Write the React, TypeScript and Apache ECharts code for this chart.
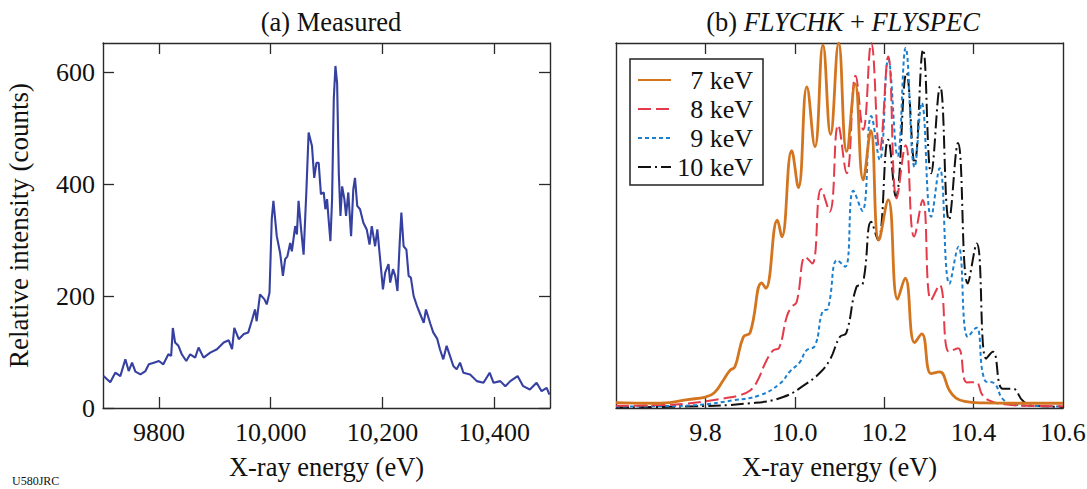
import React, { useEffect, useRef } from "react";
import * as echarts from "echarts";

// ---------- Panel (a): measured spectrum ----------
const measuredEnergy = [
  9701, 9713, 9722, 9731, 9740, 9746, 9752, 9758, 9767, 9776, 9782, 9791, 9800, 9808, 9817, 9822,
  9825, 9829, 9835, 9841, 9849, 9856, 9865, 9871, 9880, 9892, 9904, 9916, 9925, 9931, 9935, 9943,
  9952, 9960, 9967, 9972, 9975, 9981, 9989, 9993, 9998, 10002, 10005, 10011, 10017, 10022, 10026,
  10030, 10035, 10038, 10044, 10047, 10050, 10054, 10059, 10064, 10068, 10074, 10078, 10082, 10086,
  10090, 10095, 10098, 10101, 10104, 10107, 10110, 10113, 10116, 10119, 10122, 10125, 10128, 10132,
  10135, 10139, 10144, 10148, 10151, 10155, 10160, 10166, 10172, 10177, 10181, 10187, 10191, 10196,
  10201, 10205, 10211, 10214, 10219, 10223, 10227, 10231, 10234, 10238, 10243, 10247, 10251, 10256,
  10262, 10268, 10274, 10278, 10286, 10291, 10298, 10303, 10309, 10315, 10321, 10327, 10333, 10339,
  10345, 10357, 10369, 10381, 10392, 10399, 10411, 10420, 10429, 10442, 10452, 10464, 10476, 10485,
  10494, 10499,
];
const measuredCounts = [
  57, 46, 63, 57, 87, 66, 81, 65, 60, 66, 78, 81, 84, 78, 96, 93,
  143, 117, 111, 96, 84, 96, 90, 108, 90, 99, 105, 117, 121, 105, 143, 123,
  132, 135, 158, 176, 155, 203, 194, 185, 206, 337, 370, 307, 277, 236, 266,
  271, 295, 280, 325, 310, 370, 325, 274, 388, 492, 468, 411, 438, 438,
  382, 385, 355, 373, 334, 298, 373, 551, 611, 580, 420, 343, 396, 373,
  343, 385, 307, 391, 411, 361, 355, 331, 319, 292, 325, 289, 319, 266,
  212, 242, 257, 224, 248, 236, 209, 295, 349, 289, 283, 236, 233, 200,
  182, 167, 152, 176, 150, 135, 124, 105, 87, 111, 93, 75, 69, 81,
  63, 60, 48, 45, 63, 45, 48, 39, 48, 57, 39, 33, 45, 30,
  36, 24,
];
const measuredXTicks = [9800, 10000, 10200, 10400];
const measuredYTicks = [0, 200, 400, 600];

// ---------- Panel (b): FLYCHK + FLYSPEC (relative intensity) ----------
const seriesNames = ["7 keV", "8 keV", "9 keV", "10 keV"];
const sim7keV = [
  [9.6, 0.015], [9.68, 0.013], [9.72, 0.015], [9.76, 0.023], [9.8, 0.03], [9.82, 0.042],
  [9.84, 0.076], [9.855, 0.103], [9.866, 0.113], [9.885, 0.195], [9.9, 0.206], [9.926, 0.343],
  [9.935, 0.328], [9.961, 0.515], [9.971, 0.469], [9.993, 0.705], [10.008, 0.604], [10.027, 0.88],
  [10.045, 0.716], [10.063, 0.995], [10.08, 0.75], [10.098, 1.0], [10.116, 0.703], [10.135, 0.888],
  [10.153, 0.625], [10.17, 0.76], [10.188, 0.46], [10.209, 0.57], [10.23, 0.298], [10.247, 0.356],
  [10.268, 0.179], [10.284, 0.203], [10.305, 0.094], [10.324, 0.099], [10.346, 0.048], [10.36, 0.028],
  [10.38, 0.018], [10.42, 0.014], [10.5, 0.013], [10.6, 0.013],
];
const sim8keV = [
  [9.6, 0.006], [9.7, 0.008], [9.76, 0.012], [9.8, 0.018], [9.84, 0.026], [9.877, 0.035],
  [9.9, 0.048], [9.915, 0.071], [9.937, 0.131], [9.952, 0.158], [9.965, 0.165], [9.982, 0.25],
  [9.993, 0.277], [10.004, 0.29], [10.024, 0.414], [10.039, 0.396], [10.059, 0.6], [10.078, 0.538],
  [10.097, 0.775], [10.116, 0.643], [10.136, 0.91], [10.153, 0.762], [10.171, 1.0], [10.19, 0.707],
  [10.209, 0.963], [10.228, 0.575], [10.248, 0.72], [10.267, 0.47], [10.286, 0.57], [10.305, 0.296],
  [10.324, 0.337], [10.345, 0.154], [10.365, 0.164], [10.385, 0.07], [10.405, 0.071], [10.42, 0.035],
  [10.44, 0.018], [10.47, 0.01], [10.52, 0.006], [10.6, 0.005],
];
const sim9keV = [
  [9.6, 0.004], [9.7, 0.005], [9.78, 0.008], [9.862, 0.021], [9.922, 0.035], [9.967, 0.067],
  [9.989, 0.1], [10.011, 0.125], [10.026, 0.158], [10.045, 0.17], [10.062, 0.265], [10.074, 0.272],
  [10.095, 0.405], [10.113, 0.387], [10.131, 0.595], [10.151, 0.54], [10.171, 0.8], [10.19, 0.68],
  [10.209, 0.955], [10.23, 0.69], [10.248, 0.986], [10.268, 0.66], [10.284, 0.836], [10.305, 0.524],
  [10.324, 0.657], [10.346, 0.341], [10.366, 0.442], [10.387, 0.195], [10.406, 0.22], [10.425, 0.076],
  [10.447, 0.067], [10.465, 0.025], [10.49, 0.01], [10.55, 0.005], [10.6, 0.004],
];
const sim10keV = [
  [9.6, 0.002], [9.75, 0.004], [9.9, 0.013], [9.974, 0.03], [10.026, 0.067], [10.055, 0.095],
  [10.078, 0.131], [10.101, 0.195], [10.115, 0.205], [10.138, 0.332], [10.152, 0.34], [10.171, 0.51],
  [10.186, 0.46], [10.209, 0.735], [10.226, 0.579], [10.25, 0.918], [10.268, 0.671], [10.287, 0.982],
  [10.305, 0.643], [10.325, 0.881], [10.345, 0.515], [10.365, 0.726], [10.387, 0.341], [10.407, 0.451],
  [10.428, 0.135], [10.443, 0.154], [10.465, 0.053], [10.487, 0.053], [10.51, 0.02], [10.53, 0.007],
  [10.6, 0.003],
];
const simXTicks = [9.8, 10.0, 10.2, 10.4];
const simXLabels = [9.8, 10.0, 10.2, 10.4, 10.6];

const FONT = "Liberation Serif, DejaVu Serif, serif";
const INK = "#111";
const AXIS = "#2a2a2a";

export default function App() {
  const ref = useRef<HTMLDivElement>(null);

  useEffect(() => {
    document.body.style.margin = "0";
    if (!ref.current) return;
    const chart = echarts.init(ref.current, undefined, { renderer: "svg" });

    const axisLine = { show: true, onZero: false, lineStyle: { color: AXIS, width: 1.4 } };
    const tickIn = (vals: number[] | undefined, show = true) => ({
      show,
      inside: true,
      length: 11,
      lineStyle: { color: AXIS, width: 1.3 },
      ...(vals ? { customValues: vals } : {}),
    });
    const labelStyle = { fontFamily: FONT, fontSize: 26, color: INK };
    const nameStyle = { fontFamily: FONT, fontSize: 26.5, color: INK };

    const fmtEnergy = (v: number) =>
      v >= 10000 ? v.toLocaleString("en-US") : String(v);

    const option: any = {
      animation: false,
      backgroundColor: "#fff",
      textStyle: { fontFamily: FONT },
      title: [
        {
          text: "(a) Measured",
          left: 326,
          top: 3,
          textAlign: "center",
          textStyle: { fontFamily: FONT, fontSize: 26.5, fontWeight: "normal", color: INK },
        },
        {
          text: "{n|(b) }{i|FLYCHK}{n| + }{i|FLYSPEC}",
          left: 838,
          top: 3,
          textAlign: "center",
          textStyle: {
            fontFamily: FONT,
            fontSize: 26.5,
            fontWeight: "normal",
            color: INK,
            rich: {
              n: { fontFamily: FONT, fontSize: 26.5, color: INK },
              i: { fontFamily: FONT, fontSize: 26.5, color: INK, fontStyle: "italic" },
            },
          },
        },
      ],
      grid: [
        { left: 103, top: 43, width: 447, height: 365, containLabel: false, outerBoundsMode: "none" },
        { left: 616, top: 43, width: 447, height: 365, containLabel: false, outerBoundsMode: "none" },
      ],
      xAxis: [
        {
          type: "value",
          gridIndex: 0,
          position: "bottom",
          min: 9700,
          max: 10500,
          axisLine,
          axisTick: tickIn(measuredXTicks),
          axisLabel: {
            ...labelStyle,
            margin: 11,
            customValues: measuredXTicks,
            formatter: fmtEnergy,
          },
          splitLine: { show: false },
          name: "X-ray energy (eV)",
          nameLocation: "middle",
          nameGap: 45,
          nameMoveOverlap: false,
          nameTextStyle: nameStyle,
        },
        {
          type: "value",
          gridIndex: 0,
          position: "top",
          min: 9700,
          max: 10500,
          axisLine,
          axisTick: tickIn(measuredXTicks),
          axisLabel: { show: false },
          splitLine: { show: false },
        },
        {
          type: "value",
          gridIndex: 1,
          position: "bottom",
          min: 9.6,
          max: 10.6,
          axisLine,
          axisTick: tickIn(simXTicks),
          axisLabel: {
            ...labelStyle,
            margin: 11,
            customValues: simXLabels,
            formatter: (v: number) => v.toFixed(1),
          },
          splitLine: { show: false },
          name: "X-ray energy (eV)",
          nameLocation: "middle",
          nameGap: 45,
          nameMoveOverlap: false,
          nameTextStyle: nameStyle,
        },
        {
          type: "value",
          gridIndex: 1,
          position: "top",
          min: 9.6,
          max: 10.6,
          axisLine,
          axisTick: tickIn(simXTicks),
          axisLabel: { show: false },
          splitLine: { show: false },
        },
      ],
      yAxis: [
        {
          type: "value",
          gridIndex: 0,
          position: "left",
          min: 0,
          max: 652,
          axisLine,
          axisTick: tickIn(measuredYTicks),
          axisLabel: { ...labelStyle, margin: 8, customValues: measuredYTicks },
          splitLine: { show: false },
          name: "Relative intensity (counts)",
          nameLocation: "middle",
          nameGap: 71,
          nameMoveOverlap: false,
          nameTextStyle: { fontFamily: FONT, fontSize: 27, color: INK },
        },
        {
          type: "value",
          gridIndex: 0,
          position: "right",
          min: 0,
          max: 652,
          axisLine,
          axisTick: tickIn(measuredYTicks),
          axisLabel: { show: false },
          splitLine: { show: false },
        },
        {
          type: "value",
          gridIndex: 1,
          position: "left",
          min: 0,
          max: 1,
          axisLine,
          axisTick: { show: false },
          axisLabel: { show: false },
          splitLine: { show: false },
        },
        {
          type: "value",
          gridIndex: 1,
          position: "right",
          min: 0,
          max: 1,
          axisLine,
          axisTick: { show: false },
          axisLabel: { show: false },
          splitLine: { show: false },
        },
      ],
      legend: {
        orient: "vertical",
        left: 630,
        top: 59,
        data: seriesNames,
        itemWidth: 33,
        itemHeight: 14,
        itemGap: 3,
        padding: [8, 10, 5, 7],
        borderColor: "#222",
        borderWidth: 1.5,
        backgroundColor: "#fff",
        itemStyle: { opacity: 0 },
        formatter: (name: string) => `{a|${name}}`,
        textStyle: {
          fontFamily: FONT,
          fontSize: 26,
          color: INK,
          rich: { a: { fontFamily: FONT, fontSize: 26, color: INK, width: 77, align: "right" } },
        },
      },
      graphic: [
        {
          type: "text",
          left: 12,
          top: 475,
          style: { text: "U580JRC", font: `12px Liberation Serif, serif`, fill: INK },
        },
      ],
      series: [
        {
          type: "line",
          name: "Measured",
          xAxisIndex: 0,
          yAxisIndex: 0,
          data: measuredEnergy.map((e, i) => [e, measuredCounts[i]]),
          symbol: "none",
          lineStyle: { color: "#3540a0", width: 2.1 },
          z: 3,
        },
        {
          type: "line",
          name: "7 keV",
          xAxisIndex: 2,
          yAxisIndex: 2,
          data: sim7keV,
          symbol: "none",
          smooth: 0.45,
          color: "#d3751f",
          lineStyle: { color: "#d3751f", width: 2.8, type: "solid" },
          z: 6,
        },
        {
          type: "line",
          name: "8 keV",
          xAxisIndex: 2,
          yAxisIndex: 2,
          data: sim8keV,
          symbol: "none",
          smooth: 0.45,
          color: "#e43a4a",
          lineStyle: { color: "#e43a4a", width: 2, type: [13, 5] },
          z: 5,
        },
        {
          type: "line",
          name: "9 keV",
          xAxisIndex: 2,
          yAxisIndex: 2,
          data: sim9keV,
          symbol: "none",
          smooth: 0.45,
          color: "#1c80cf",
          lineStyle: { color: "#1c80cf", width: 2, type: [4, 3] },
          z: 4,
        },
        {
          type: "line",
          name: "10 keV",
          xAxisIndex: 2,
          yAxisIndex: 2,
          data: sim10keV,
          symbol: "none",
          smooth: 0.45,
          color: "#111",
          lineStyle: { color: "#111", width: 2, type: [13, 4, 2, 4] },
          z: 3,
        },
      ],
    };

    chart.setOption(option);
    return () => chart.dispose();
  }, []);

  return <div ref={ref} style={{ width: 1087, height: 489 }} />;
}
